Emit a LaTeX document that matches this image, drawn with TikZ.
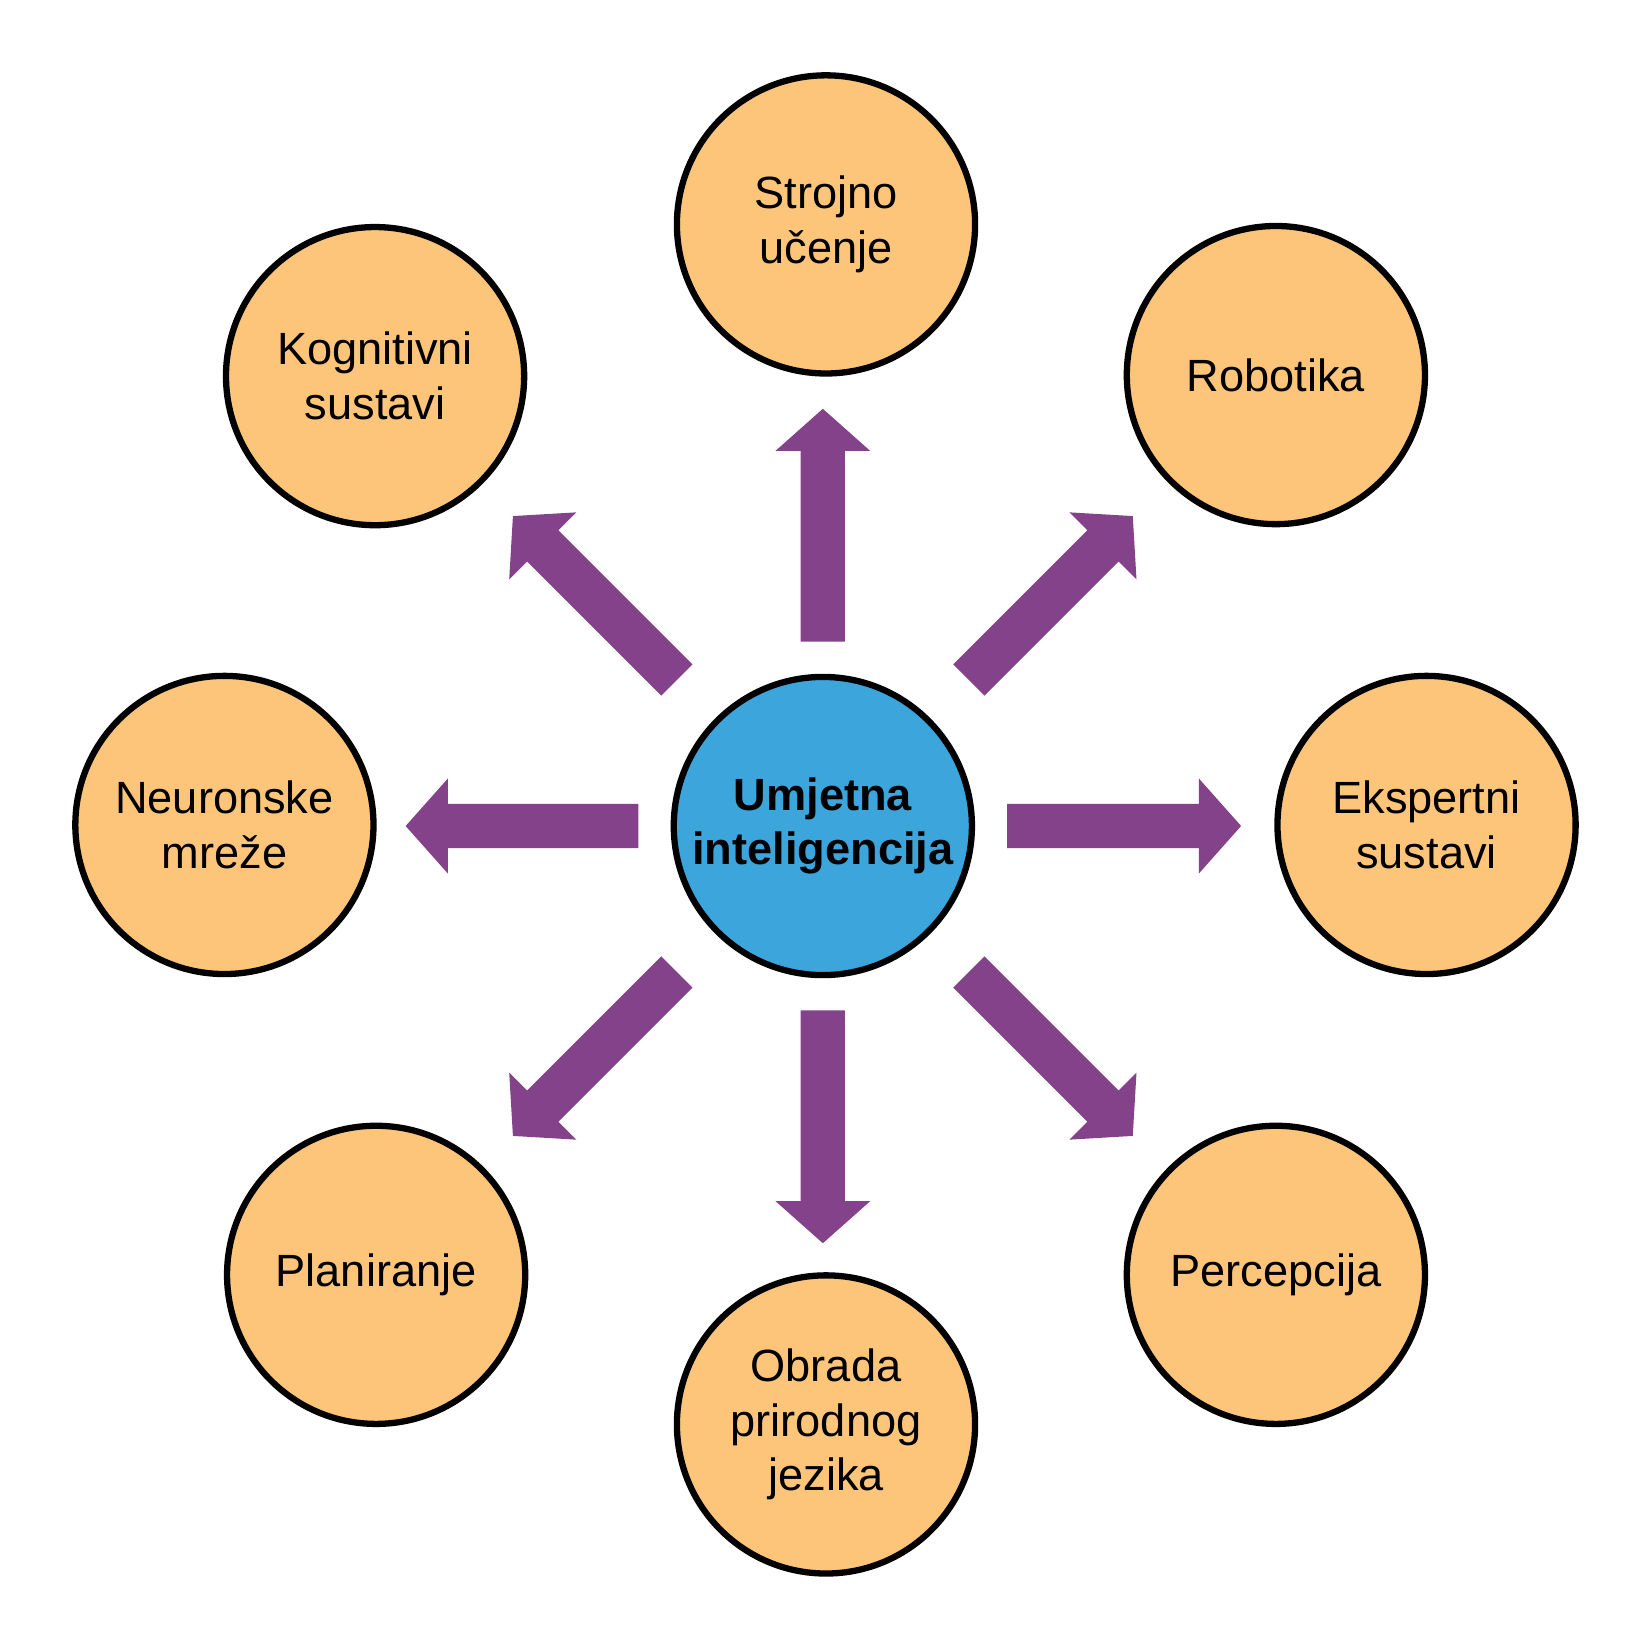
\documentclass[tikz,border=0pt]{standalone}
\usepackage{fontspec}
\setmainfont{Liberation Sans}

\definecolor{krugnar}{RGB}{253,197,122}
\definecolor{krugplav}{RGB}{59,165,220}
\definecolor{strelica}{RGB}{132,66,138}

\tikzset{
  podrucje/.style={circle, draw=black, line width=1.7pt, fill=krugnar,
    minimum size=2.83cm, inner sep=0pt, align=center,
    font=\fontsize{12.2}{14.8}\selectfont},
  jezgra/.style={podrucje, fill=krugplav, font=\fontsize{12.2}{14.8}\selectfont\bfseries},
  blok/.style={fill=strelica}
}

\begin{document}
\begin{tikzpicture}

\useasboundingbox (0,0) rectangle (15.68,15.66);

% Sredina
\node[jezgra] (ai) at (7.81,7.82) {Umjetna\\inteligencija};

% Podrucja
\node[podrucje] (strojno) at (7.84,13.53) {Strojno\\učenje};
\node[podrucje] (robotika) at (12.11,12.10) {Robotika};
\node[podrucje] (ekspert) at (13.54,7.83) {Ekspertni\\sustavi};
\node[podrucje] (percepcija) at (12.11,3.56) {Percepcija};
\node[podrucje] (obrada) at (7.84,2.14) {Obrada\\prirodnog\\jezika};
\node[podrucje] (planiranje) at (3.57,3.56) {Planiranje};
\node[podrucje] (neuronske) at (2.13,7.83) {Neuronske\\mreže};
\node[podrucje] (kognitivni) at (3.56,12.09) {Kognitivni\\sustavi};

% Strelice
\foreach \kut/\od/\do in {0/1.75/3.97, 90/1.75/3.96, 180/1.75/3.96, 270/1.75/3.96,
                          45/1.96/4.16, 135/1.96/4.16, 225/1.96/4.16, 315/1.96/4.16}
{
\begin{scope}[shift={(ai.center)}, rotate=\kut]
\fill[blok]
(\od,-0.21) --
(\do-0.40,-0.21) --
(\do-0.40,-0.45) --
(\do,0) --
(\do-0.40,0.45) --
(\do-0.40,0.21) --
(\od,0.21) --
cycle;
\end{scope}
}

\end{tikzpicture}
\end{document}
